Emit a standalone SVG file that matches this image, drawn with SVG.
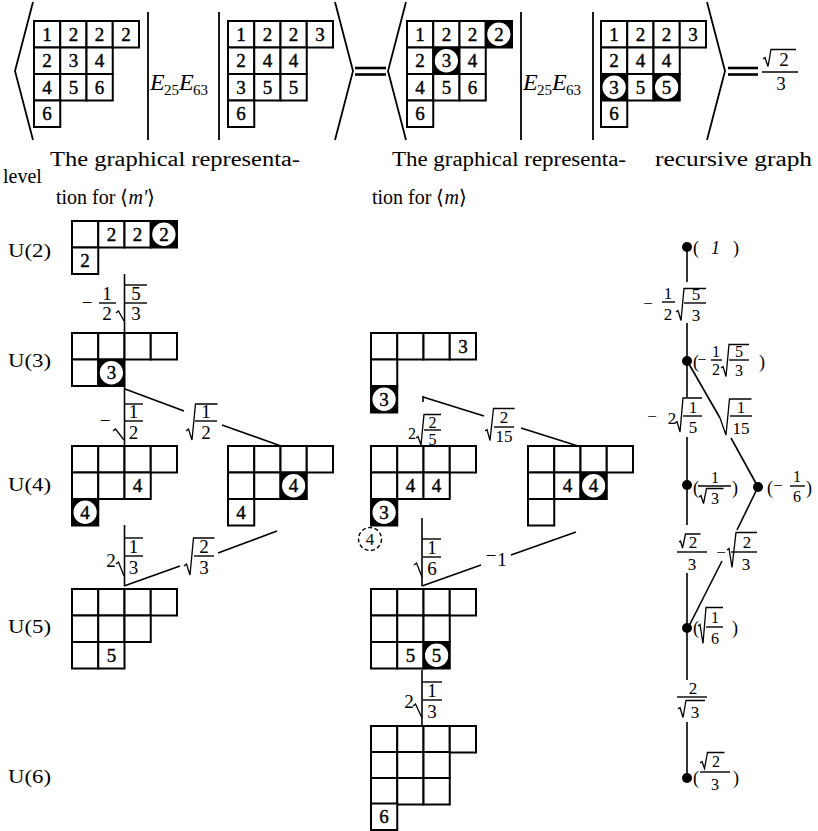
<svg xmlns="http://www.w3.org/2000/svg" width="818" height="831" viewBox="0 0 818 831">
<style>
.cell{fill:#fff;stroke:#000;stroke-width:2}
.ringline{fill:none;stroke:#000;stroke-width:1.5}
.d{font-family:"Liberation Serif","Times New Roman",serif;font-size:19px;text-anchor:middle;fill:#000;stroke:#000;stroke-width:0.4}
.m{font-family:"Liberation Serif","Times New Roman",serif;font-size:19px;text-anchor:middle}
.s{font-size:17px}
.xs{font-size:16px}
.tx{font-family:"Liberation Serif","Times New Roman",serif;font-size:18px}
.hd{font-family:"Liberation Serif","Times New Roman",serif;font-size:20px}
.ln{stroke:#000;stroke-width:1.6;fill:none}
.rd{stroke:#000;stroke-width:1.3;fill:none}
.fb{stroke:#000;stroke-width:1.4}
.br{stroke:#000;stroke-width:1.8;fill:none}
.eq{stroke:#000;stroke-width:2.6}
</style>
<defs>
<rect id="cell" class="cell" width="26.25" height="26.5"/>
<!-- circled entry: plain cell, ring, and the four dark corners outside the ring -->
<g id="ring">
  <rect class="cell" width="26.25" height="26.5"/>
  <path fill="#000" d="M0,0H13.125V0.85A12.4,12.4 0 0,0 0.725,13.25H0Z M26.25,0H13.125V0.85A12.4,12.4 0 0,1 25.525,13.25H26.25Z M26.25,26.5H13.125V25.65A12.4,12.4 0 0,0 25.525,13.25H26.25Z M0,26.5H13.125V25.65A12.4,12.4 0 0,1 0.725,13.25H0Z"/>
  <circle class="ringline" cx="13.125" cy="13.25" r="12.4"/>
</g>
</defs>
<rect width="818" height="831" fill="#fff"/>

<!-- matrix element equation -->
<g id="equation">
  <path class="br" d="M33,2 L15,71 L33,140"/>
  <g id="t1">
    <use href="#cell" x="34" y="21"/><use href="#cell" x="60.25" y="21"/><use href="#cell" x="86.5" y="21"/><use href="#cell" x="112.75" y="21"/>
    <use href="#cell" x="34" y="47.5"/><use href="#cell" x="60.25" y="47.5"/><use href="#cell" x="86.5" y="47.5"/>
    <use href="#cell" x="34" y="74"/><use href="#cell" x="60.25" y="74"/><use href="#cell" x="86.5" y="74"/>
    <use href="#cell" x="34" y="100.5"/>
    <text class="d" x="47.1" y="40.5">1</text><text class="d" x="73.4" y="40.5">2</text><text class="d" x="99.6" y="40.5">2</text><text class="d" x="125.9" y="40.5">2</text>
    <text class="d" x="47.1" y="67">2</text><text class="d" x="73.4" y="67">3</text><text class="d" x="99.6" y="67">4</text>
    <text class="d" x="47.1" y="93.5">4</text><text class="d" x="73.4" y="93.5">5</text><text class="d" x="99.6" y="93.5">6</text>
    <text class="d" x="47.1" y="120">6</text>
  </g>
  <line class="br" x1="148" y1="12" x2="148" y2="140"/>
  <text font-family="Liberation Serif, serif" font-size="24"><tspan x="150" y="90" font-style="italic">E</tspan><tspan x="164" y="95" font-size="15">25</tspan><tspan x="179" y="90" font-style="italic">E</tspan><tspan x="193" y="95" font-size="15">63</tspan></text>
  <line class="br" x1="219" y1="12" x2="219" y2="140"/>
  <g id="t2">
    <use href="#cell" x="228" y="21"/><use href="#cell" x="254.25" y="21"/><use href="#cell" x="280.5" y="21"/><use href="#cell" x="306.75" y="21"/>
    <use href="#cell" x="228" y="47.5"/><use href="#cell" x="254.25" y="47.5"/><use href="#cell" x="280.5" y="47.5"/>
    <use href="#cell" x="228" y="74"/><use href="#cell" x="254.25" y="74"/><use href="#cell" x="280.5" y="74"/>
    <use href="#cell" x="228" y="100.5"/>
    <text class="d" x="241.1" y="40.5">1</text><text class="d" x="267.4" y="40.5">2</text><text class="d" x="293.6" y="40.5">2</text><text class="d" x="319.9" y="40.5">3</text>
    <text class="d" x="241.1" y="67">2</text><text class="d" x="267.4" y="67">4</text><text class="d" x="293.6" y="67">4</text>
    <text class="d" x="241.1" y="93.5">3</text><text class="d" x="267.4" y="93.5">5</text><text class="d" x="293.6" y="93.5">5</text>
    <text class="d" x="241.1" y="120">6</text>
  </g>
  <path class="br" d="M335,2 L353,71 L335,140"/>
  <line class="eq" x1="355" y1="68" x2="386" y2="68"/><line class="eq" x1="355" y1="74.5" x2="386" y2="74.5"/>
  <path class="br" d="M406,2 L388,71 L406,140"/>
  <g id="t3">
    <use href="#cell" x="407" y="21"/><use href="#cell" x="433.25" y="21"/><use href="#cell" x="459.5" y="21"/><use href="#ring" x="485.75" y="21"/>
    <use href="#cell" x="407" y="47.5"/><use href="#ring" x="433.25" y="47.5"/><use href="#cell" x="459.5" y="47.5"/>
    <use href="#cell" x="407" y="74"/><use href="#cell" x="433.25" y="74"/><use href="#cell" x="459.5" y="74"/>
    <use href="#cell" x="407" y="100.5"/>
    <text class="d" x="420.1" y="40.5">1</text><text class="d" x="446.4" y="40.5">2</text><text class="d" x="472.6" y="40.5">2</text><text class="d" x="498.9" y="40.5">2</text>
    <text class="d" x="420.1" y="67">2</text><text class="d" x="446.4" y="67">3</text><text class="d" x="472.6" y="67">4</text>
    <text class="d" x="420.1" y="93.5">4</text><text class="d" x="446.4" y="93.5">5</text><text class="d" x="472.6" y="93.5">6</text>
    <text class="d" x="420.1" y="120">6</text>
  </g>
  <line class="br" x1="521" y1="12" x2="521" y2="140"/>
  <text font-family="Liberation Serif, serif" font-size="24"><tspan x="523" y="90" font-style="italic">E</tspan><tspan x="537" y="95" font-size="15">25</tspan><tspan x="552" y="90" font-style="italic">E</tspan><tspan x="566" y="95" font-size="15">63</tspan></text>
  <line class="br" x1="593" y1="12" x2="593" y2="140"/>
  <g id="t4">
    <use href="#cell" x="601" y="21"/><use href="#cell" x="627.25" y="21"/><use href="#cell" x="653.5" y="21"/><use href="#cell" x="679.75" y="21"/>
    <use href="#cell" x="601" y="47.5"/><use href="#cell" x="627.25" y="47.5"/><use href="#cell" x="653.5" y="47.5"/>
    <use href="#ring" x="601" y="74"/><use href="#cell" x="627.25" y="74"/><use href="#ring" x="653.5" y="74"/>
    <use href="#cell" x="601" y="100.5"/>
    <text class="d" x="614.1" y="40.5">1</text><text class="d" x="640.4" y="40.5">2</text><text class="d" x="666.6" y="40.5">2</text><text class="d" x="692.9" y="40.5">3</text>
    <text class="d" x="614.1" y="67">2</text><text class="d" x="640.4" y="67">4</text><text class="d" x="666.6" y="67">4</text>
    <text class="d" x="614.1" y="93.5">3</text><text class="d" x="640.4" y="93.5">5</text><text class="d" x="666.6" y="93.5">5</text>
    <text class="d" x="614.1" y="120">6</text>
  </g>
  <path class="br" d="M707,2 L725,71 L707,140"/>
  <line class="eq" x1="728" y1="68" x2="758" y2="68"/><line class="eq" x1="728" y1="74.5" x2="758" y2="74.5"/>
  <path class="rd" d="M763,59 l2,-1.5 l3,9 l3,-17 h25"/>
  <text class="m" x="784" y="66">2</text>
  <line class="fb" x1="762" y1="72" x2="798" y2="72"/>
  <text class="m" x="781" y="90">3</text>
</g>

<!-- column headings -->
<g id="headings" class="hd">
  <text x="50" y="166" textLength="250" lengthAdjust="spacingAndGlyphs">The graphical representa-</text>
  <text x="3" y="183">level</text>
  <text x="56" y="204">tion for ⟨<tspan font-style="italic">m′</tspan>⟩</text>
  <text x="392" y="166" textLength="234" lengthAdjust="spacingAndGlyphs">The graphical representa-</text>
  <text x="372" y="204">tion for ⟨<tspan font-style="italic">m</tspan>⟩</text>
  <text x="655" y="166" textLength="157" lengthAdjust="spacingAndGlyphs">recursive graph</text>
</g>

<!-- level labels -->
<g id="levels" class="tx">
  <text x="8" y="257" textLength="43" lengthAdjust="spacingAndGlyphs">U(2)</text>
  <text x="8" y="367" textLength="43" lengthAdjust="spacingAndGlyphs">U(3)</text>
  <text x="8" y="491" textLength="43" lengthAdjust="spacingAndGlyphs">U(4)</text>
  <text x="8" y="633" textLength="43" lengthAdjust="spacingAndGlyphs">U(5)</text>
  <text x="8" y="783" textLength="43" lengthAdjust="spacingAndGlyphs">U(6)</text>
</g>

<!-- connectors between tableaux and graph edges -->
<g id="connectors" class="ln">
  <line x1="124.5" y1="274" x2="124.5" y2="333"/>
  <line x1="124.5" y1="386" x2="124.5" y2="446"/>
  <line x1="125" y1="389" x2="184" y2="411"/>
  <line x1="222" y1="425" x2="281" y2="446"/>
  <line x1="124.5" y1="525" x2="124.5" y2="586"/>
  <line x1="124" y1="586" x2="180" y2="566"/>
  <line x1="218" y1="553" x2="277" y2="531"/>
  <line x1="423" y1="396" x2="423" y2="402"/>
  <line x1="423" y1="397" x2="484" y2="416"/>
  <line x1="521" y1="428" x2="578" y2="446"/>
  <line x1="422" y1="518" x2="422" y2="586"/>
  <line x1="422" y1="586" x2="481" y2="565"/>
  <line x1="511" y1="555" x2="576" y2="532"/>
  <line x1="422" y1="670" x2="422" y2="726"/>
  <line x1="687" y1="247" x2="687" y2="282"/>
  <line x1="687" y1="323" x2="687" y2="397"/>
  <line x1="687" y1="437" x2="687" y2="525"/>
  <line x1="687" y1="573" x2="687" y2="680"/>
  <line x1="687" y1="722" x2="687" y2="778"/>
  <line x1="689" y1="364" x2="720" y2="418"/>
  <line x1="731" y1="438" x2="758" y2="487"/>
  <line x1="758" y1="487" x2="737" y2="530"/>
  <line x1="722" y1="561" x2="688" y2="628"/>
</g>

<!-- U(2) -->
<g id="u2-left">
  <use href="#cell" x="72" y="221"/><use href="#cell" x="98.25" y="221"/><use href="#cell" x="124.5" y="221"/><use href="#ring" x="150.75" y="221"/>
  <use href="#cell" x="72" y="247.5"/>
  <text class="d" x="111.4" y="240.5">2</text><text class="d" x="137.6" y="240.5">2</text><text class="d" x="163.9" y="240.5">2</text>
  <text class="d" x="85.1" y="267">2</text>
</g>

<!-- U(3) -->
<g id="u3-left">
  <use href="#cell" x="72" y="333"/><use href="#cell" x="98.25" y="333"/><use href="#cell" x="124.5" y="333"/><use href="#cell" x="150.75" y="333"/>
  <use href="#cell" x="72" y="359.5"/><use href="#ring" x="98.25" y="359.5"/>
  <text class="d" x="111.4" y="379">3</text>
</g>
<g id="u3-mid">
  <use href="#cell" x="371" y="333"/><use href="#cell" x="397.25" y="333"/><use href="#cell" x="423.5" y="333"/><use href="#cell" x="449.75" y="333"/>
  <use href="#cell" x="371" y="359.5"/>
  <use href="#ring" x="371" y="386"/>
  <text class="d" x="462.9" y="352.5">3</text>
  <text class="d" x="384.1" y="405.5">3</text>
</g>

<!-- U(4) -->
<g id="u4-left-a">
  <use href="#cell" x="72" y="446"/><use href="#cell" x="98.25" y="446"/><use href="#cell" x="124.5" y="446"/><use href="#cell" x="150.75" y="446"/>
  <use href="#cell" x="72" y="472.5"/><use href="#cell" x="98.25" y="472.5"/><use href="#cell" x="124.5" y="472.5"/>
  <use href="#ring" x="72" y="499"/>
  <text class="d" x="137.6" y="492">4</text>
  <text class="d" x="85.1" y="518.5">4</text>
</g>
<g id="u4-left-b">
  <use href="#cell" x="228" y="446"/><use href="#cell" x="254.25" y="446"/><use href="#cell" x="280.5" y="446"/><use href="#cell" x="306.75" y="446"/>
  <use href="#cell" x="228" y="472.5"/><use href="#cell" x="254.25" y="472.5"/><use href="#ring" x="280.5" y="472.5"/>
  <use href="#cell" x="228" y="499"/>
  <text class="d" x="293.6" y="492">4</text>
  <text class="d" x="241.1" y="518.5">4</text>
</g>
<g id="u4-mid-a">
  <use href="#cell" x="371" y="446"/><use href="#cell" x="397.25" y="446"/><use href="#cell" x="423.5" y="446"/><use href="#cell" x="449.75" y="446"/>
  <use href="#cell" x="371" y="472.5"/><use href="#cell" x="397.25" y="472.5"/><use href="#cell" x="423.5" y="472.5"/>
  <use href="#ring" x="371" y="499"/>
  <text class="d" x="410.4" y="492">4</text><text class="d" x="436.6" y="492">4</text>
  <text class="d" x="384.1" y="518.5">3</text>
  <circle cx="370" cy="539" r="11.5" fill="none" stroke="#000" stroke-width="1.4" stroke-dasharray="4 2.5"/>
  <text class="m s" x="370" y="545">4</text>
</g>
<g id="u4-mid-b">
  <use href="#cell" x="528" y="446"/><use href="#cell" x="554.25" y="446"/><use href="#cell" x="580.5" y="446"/><use href="#cell" x="606.75" y="446"/>
  <use href="#cell" x="528" y="472.5"/><use href="#cell" x="554.25" y="472.5"/><use href="#ring" x="580.5" y="472.5"/>
  <use href="#cell" x="528" y="499"/>
  <text class="d" x="567.4" y="492">4</text><text class="d" x="593.6" y="492">4</text>
</g>

<!-- U(5) -->
<g id="u5-left">
  <use href="#cell" x="72" y="589"/><use href="#cell" x="98.25" y="589"/><use href="#cell" x="124.5" y="589"/><use href="#cell" x="150.75" y="589"/>
  <use href="#cell" x="72" y="615.5"/><use href="#cell" x="98.25" y="615.5"/><use href="#cell" x="124.5" y="615.5"/>
  <use href="#cell" x="72" y="642"/><use href="#cell" x="98.25" y="642"/>
  <text class="d" x="111.4" y="661.5">5</text>
</g>
<g id="u5-mid">
  <use href="#cell" x="371" y="589"/><use href="#cell" x="397.25" y="589"/><use href="#cell" x="423.5" y="589"/><use href="#cell" x="449.75" y="589"/>
  <use href="#cell" x="371" y="615.5"/><use href="#cell" x="397.25" y="615.5"/><use href="#cell" x="423.5" y="615.5"/>
  <use href="#cell" x="371" y="642"/><use href="#cell" x="397.25" y="642"/><use href="#ring" x="423.5" y="642"/>
  <text class="d" x="410.4" y="661.5">5</text><text class="d" x="436.6" y="661.5">5</text>
</g>

<!-- U(6) -->
<g id="u6-mid">
  <use href="#cell" x="371" y="726"/><use href="#cell" x="397.25" y="726"/><use href="#cell" x="423.5" y="726"/><use href="#cell" x="449.75" y="726"/>
  <use href="#cell" x="371" y="752"/><use href="#cell" x="397.25" y="752"/><use href="#cell" x="423.5" y="752"/>
  <use href="#cell" x="371" y="778"/><use href="#cell" x="397.25" y="778"/><use href="#cell" x="423.5" y="778"/>
  <use href="#cell" x="371" y="803.5"/>
  <text class="d" x="384.1" y="823">6</text>
</g>

<!-- coefficient labels on the left column -->
<g id="coef-left">
  <text class="m" x="87" y="309">−</text>
  <text class="m" x="107" y="300">1</text><line class="fb" x1="99" y1="303" x2="116" y2="303"/><text class="m" x="107" y="320">2</text>
  <path class="rd" d="M116,313 l2.5,-2 L124,321"/>
  <line class="fb" x1="124" y1="285" x2="147" y2="285"/>
  <text class="m" x="136" y="300">5</text><line class="fb" x1="125" y1="303" x2="147" y2="303"/><text class="m" x="136" y="320">3</text>

  <text class="m" x="105" y="427">−</text>
  <path class="rd" d="M113,431 l2.5,-2 L124,440"/>
  <line class="fb" x1="124" y1="404" x2="143" y2="404"/>
  <text class="m" x="133.5" y="418">1</text><line class="fb" x1="125" y1="421" x2="143" y2="421"/><text class="m" x="133.5" y="439">2</text>

  <path class="rd" d="M186,431 l2.5,-2 l3.5,11 l3.5,-36 h22"/>
  <text class="m" x="206" y="418">1</text><line class="fb" x1="195" y1="421" x2="217" y2="421"/><text class="m" x="206" y="439">2</text>

  <text class="m" x="111" y="567">2</text>
  <path class="rd" d="M116,564 l2.5,-2 L124,576"/>
  <line class="fb" x1="124" y1="538" x2="143" y2="538"/>
  <text class="m" x="133.5" y="553">1</text><line class="fb" x1="125" y1="556" x2="143" y2="556"/><text class="m" x="133.5" y="574">3</text>

  <path class="rd" d="M184,566 l2.5,-2 l3.5,11 l3.5,-37 h21"/>
  <text class="m" x="204" y="553">2</text><line class="fb" x1="194" y1="556" x2="214" y2="556"/><text class="m" x="204" y="574">3</text>
</g>

<!-- coefficient labels on the middle column -->
<g id="coef-mid">
  <text class="m xs" x="412" y="439">2</text>
  <path class="rd" d="M416,438 l2,-1.5 l3,8.5 l3,-30.5 h17"/>
  <text class="m xs" x="432.5" y="427.5">2</text><line class="fb" x1="424" y1="430" x2="441" y2="430"/><text class="m xs" x="432.5" y="444.5">5</text>

  <path class="rd" d="M485,431 l2,-1.5 l3,11 l3.5,-32 h21"/>
  <text class="m s" x="504" y="423">2</text><line class="fb" x1="494" y1="427" x2="514" y2="427"/><text class="m s" x="504" y="442">15</text>

  <path class="rd" d="M414,565 l2.5,-2 L422,577"/>
  <line class="fb" x1="422" y1="539" x2="441" y2="539"/>
  <text class="m" x="432" y="554">1</text><line class="fb" x1="423" y1="557" x2="441" y2="557"/><text class="m" x="432" y="575">6</text>

  <text class="m" x="491" y="562">−</text><text class="m" x="502" y="566">1</text>

  <text class="m" x="409" y="708">2</text>
  <path class="rd" d="M413,706 l2.5,-2 L422,718"/>
  <line class="fb" x1="422" y1="682" x2="442" y2="682"/>
  <text class="m" x="432" y="697">1</text><line class="fb" x1="423" y1="700" x2="442" y2="700"/><text class="m" x="432" y="718">3</text>
</g>

<!-- recursive graph: nodes -->
<g id="node-1">
  <circle cx="687" cy="247" r="5"/>
  <text class="tx" x="693" y="254">(</text><text class="tx" x="711" y="254" font-style="italic">1</text><text class="tx" x="733" y="254">)</text>
</g>
<g id="node-2">
  <circle cx="687" cy="361" r="5"/>
  <text class="tx" x="693" y="368">(</text>
  <text class="m xs" x="702" y="365">−</text>
  <text class="m xs" x="716" y="357">1</text><line class="fb" x1="711" y1="360" x2="722" y2="360"/><text class="m xs" x="716" y="375">2</text>
  <path class="rd" d="M721,368 l2,-1.5 l3,10 l3,-32 h20"/>
  <text class="m xs" x="739" y="357">5</text><line class="fb" x1="729" y1="360" x2="749" y2="360"/><text class="m xs" x="739" y="376">3</text>
  <text class="tx" x="759" y="368">)</text>
</g>
<g id="node-3">
  <circle cx="687" cy="485" r="5"/>
  <text class="tx" x="693" y="494">(</text>
  <text class="m xs" x="715" y="483">1</text><line class="fb" x1="698" y1="486" x2="731" y2="486"/>
  <path class="rd" d="M699,497 l2,-1.5 l2.5,8 l3,-15 h17"/>
  <text class="m xs" x="715" y="504">3</text>
  <text class="tx" x="732" y="494">)</text>
</g>
<g id="node-4">
  <circle cx="758" cy="487" r="5"/>
  <text class="tx" x="767" y="494">(</text>
  <text class="m xs" x="778" y="491">−</text>
  <text class="m xs" x="797" y="482">1</text><line class="fb" x1="790" y1="486" x2="805" y2="486"/><text class="m xs" x="797" y="502">6</text>
  <text class="tx" x="806" y="494">)</text>
</g>
<g id="node-5">
  <circle cx="687" cy="628" r="5"/>
  <text class="tx" x="693" y="634">(</text>
  <path class="rd" d="M698,626 l2,-1.5 l3,19 l3,-36 h17"/>
  <text class="m xs" x="715" y="623">1</text><line class="fb" x1="706" y1="627" x2="723" y2="627"/><text class="m xs" x="715" y="644">6</text>
  <text class="tx" x="732" y="634">)</text>
</g>
<g id="node-6">
  <circle cx="687" cy="778" r="5"/>
  <text class="tx" x="693" y="784">(</text>
  <path class="rd" d="M700,763 l2,-1.5 l2.5,7 l3,-16 h17"/>
  <text class="m xs" x="716" y="767">2</text><line class="fb" x1="700" y1="772" x2="730" y2="772"/><text class="m xs" x="715" y="790">3</text>
  <text class="tx" x="733" y="784">)</text>
</g>

<!-- recursive graph: edge weights -->
<g id="graph-weights">
  <text class="m s" x="648" y="309">−</text>
  <text class="m s" x="668" y="299">1</text><line class="fb" x1="662" y1="302" x2="675" y2="302"/><text class="m s" x="668" y="320">2</text>
  <path class="rd" d="M676,312 l2,-1.5 l3,10 l3,-32 h22"/>
  <text class="m s" x="696" y="300">5</text><line class="fb" x1="684" y1="303" x2="706" y2="303"/><text class="m s" x="696" y="321">3</text>

  <text class="m s" x="652" y="422">−</text>
  <text class="m s" x="672" y="424">2</text>
  <path class="rd" d="M675,423 l2,-1.5 l3,10.5 l3,-34 h19"/>
  <text class="m s" x="693" y="413">1</text><line class="fb" x1="683" y1="416" x2="702" y2="416"/><text class="m s" x="693" y="433">5</text>

  <path class="rd" d="M720,418 l6,17 l3.5,-36 h22"/>
  <text class="m s" x="741" y="413">1</text><line class="fb" x1="730" y1="416" x2="752" y2="416"/><text class="m s" x="741" y="434">15</text>

  <path class="rd" d="M679,542 l1.5,-1 l2,7 l3,-14 h15"/>
  <text class="m s" x="693" y="548">2</text><line class="fb" x1="677" y1="552" x2="707" y2="552"/><text class="m s" x="692" y="570">3</text>

  <text class="m s" x="721" y="558">−</text>
  <path class="rd" d="M727,550 l2,-1.5 l3,19 l4,-35 h21"/>
  <text class="m s" x="747" y="548">2</text><line class="fb" x1="731" y1="552" x2="757" y2="552"/><text class="m s" x="746" y="570">3</text>

  <text class="m s" x="693" y="694">2</text><line class="fb" x1="677" y1="697" x2="707" y2="697"/>
  <path class="rd" d="M678,709 l2,-1.5 l3,10 l3,-17 h19"/>
  <text class="m s" x="695" y="718">3</text>
</g>
</svg>
